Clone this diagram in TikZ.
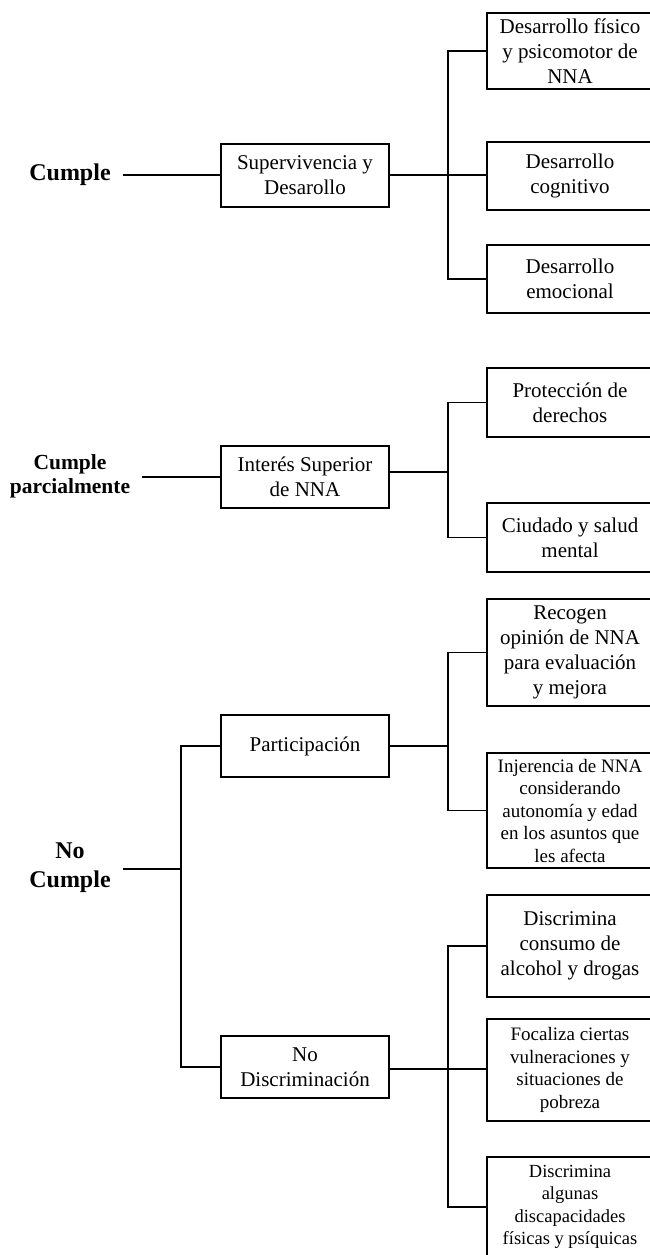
\documentclass[tikz,border=0pt]{standalone}
\usepackage{fontspec}
\setmainfont{Liberation Serif}
\tikzset{
  box/.style={draw, line width=1.2pt, align=center, inner sep=0pt, font=\fontsize{21}{25}\selectfont},
  rbox/.style={box, minimum width=166pt},
  mbox/.style={box, minimum width=168pt, minimum height=62pt},
  smalltext/.style={font=\fontsize{19}{22.5}\selectfont},
  tinytext/.style={font=\fontsize{18.5}{22.5}\selectfont},
  lab/.style={align=center, inner xsep=12pt, inner ysep=0pt},
  conn/.style={line width=1.7pt},
}
\begin{document}
\begin{tikzpicture}[x=1pt,y=1pt]
\useasboundingbox (0,0) rectangle (650,-1255);
% ---------- Cumple ----------
\node[lab, font=\bfseries\fontsize{24}{29}\selectfont] (c1) at (70,-175) {Cumple};
\node[mbox, minimum height=63pt] (s1) at (305,-175.5) {Supervivencia y\\Desarollo};
\node[rbox, minimum height=76pt] (r1) at (570,-51) {Desarrollo físico\\y psicomotor de\\NNA};
\node[rbox, minimum height=68pt] (r2) at (570,-176) {Desarrollo\\cognitivo};
\node[rbox, minimum height=68pt] (r3) at (570,-279) {Desarrollo\\emocional};
\coordinate (j1) at (448,-175);
\draw[conn] (c1.east |- j1) -- (j1 -| s1.west);
\draw[conn] (j1 -| s1.east) -- (j1);
\draw[conn] (r1.west) -- (r1.west -| j1) -- (r3.west -| j1) -- (r3.west);
\draw[conn] (j1) -- (j1 -| r2.west);
% ---------- Cumple parcialmente ----------
\node[lab, font=\bfseries\fontsize{21.5}{24}\selectfont] (c2) at (70,-476) {Cumple\\parcialmente};
\node[mbox] (s2) at (305,-477) {Interés Superior\\de NNA};
\node[rbox, minimum height=69pt] (r4) at (570,-402.5) {Protección de\\derechos};
\node[rbox, minimum height=69pt] (r5) at (570,-537.5) {Ciudado y salud\\mental};
\coordinate (j2) at (448,-472);
\draw[conn] (c2.east |- s2.west) -- (s2.west);
\draw[conn] (j2 -| s2.east) -- (j2);
\draw[conn] (r4.west) -- (r4.west -| j2) -- (r5.west -| j2) -- (r5.west);
% ---------- No Cumple ----------
\node[lab, font=\bfseries\fontsize{24}{29}\selectfont] (c3) at (70,-868) {No\\Cumple};
\node[mbox] (s3) at (305,-746) {Participación};
\node[mbox] (s4) at (305,-1067) {No\\Discriminación};
\coordinate (j3) at (181,-869);
\draw[conn] (c3.east |- j3) -- (j3);
\draw[conn] (s3.west) -- (s3.west -| j3) -- (s4.west -| j3) -- (s4.west);
% Participación branch
\node[rbox, minimum height=107pt] (r6) at (570,-652.5) {Recogen\\opinión de NNA\\para evaluación\\y mejora};
\node[rbox, minimum height=115pt, smalltext] (r7) at (570,-810.5) {Injerencia de NNA\\considerando\\autonomía y edad\\en los asuntos que\\les afecta};
\coordinate (j4) at (448,-746);
\draw[conn] (s3.east) -- (s3.east -| j4);
\draw[conn] (r6.west) -- (r6.west -| j4) -- (r7.west -| j4) -- (r7.west);
% No Discriminación branch
\node[rbox, minimum height=102pt] (r8) at (570,-946) {Discrimina\\consumo de\\alcohol y drogas};
\node[rbox, minimum height=102pt, smalltext] (r9) at (570,-1070) {Focaliza ciertas\\vulneraciones y\\situaciones de\\pobreza};
\node[rbox, minimum height=100pt, tinytext] (r10) at (570,-1207) {Discrimina\\algunas\\discapacidades\\físicas y psíquicas};
\coordinate (j5) at (448,-1069);
\draw[conn] (s4.east |- j5) -- (j5);
\draw[conn] (r8.west) -- (r8.west -| j5) -- (r10.west -| j5) -- (r10.west);
\draw[conn] (j5) -- (j5 -| r9.west);
\end{tikzpicture}
\end{document}
